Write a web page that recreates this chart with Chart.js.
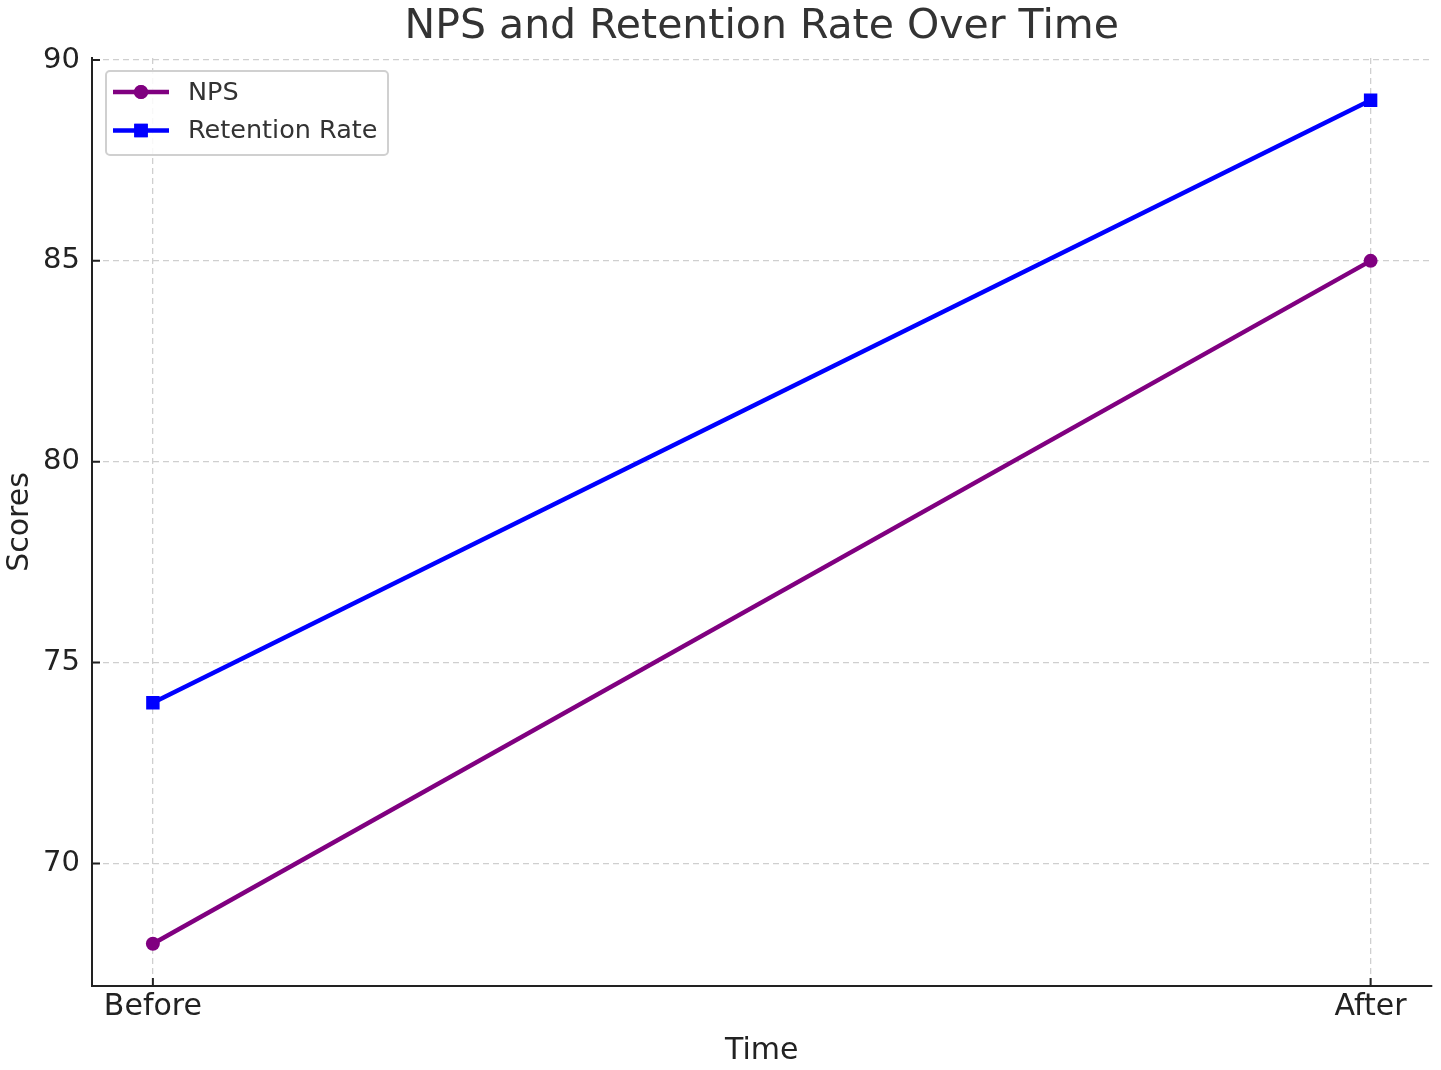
<!DOCTYPE html>
<html>
<head>
<meta charset="utf-8">
<script src="https://cdn.jsdelivr.net/npm/chart.js@4.4.1/dist/chart.umd.min.js"></script>
<style>
  html, body { margin: 0; padding: 0; background: #fff; }
  #wrap { width: 1441px; height: 1070px; }
</style>
</head>
<body>
<div id="wrap"><canvas id="linecanva"></canvas></div>
<script>
const chartTitle = "NPS and Retention Rate Over Time";
const periods = ["Before", "After"];
const npsValues = [68, 85];
const retentionValues = [74, 89];
const yTicks = [70, 75, 80, 85, 90];

Chart.defaults.font.family = "'DejaVu Sans', sans-serif";

// title centred over the plot area, like matplotlib
const plotTitle = {
  id: "plotTitle",
  afterDraw(chart) {
    const ctx = chart.ctx;
    const area = chart.chartArea;
    ctx.save();
    ctx.fillStyle = "#333";
    ctx.font = "41px 'DejaVu Sans'";
    ctx.textAlign = "center";
    ctx.textBaseline = "middle";
    ctx.fillText(chartTitle, (area.left + area.right) / 2, 27);
    ctx.restore();
  }
};

// small inward ticks
const innerTicks = {
  id: "innerTicks",
  afterDraw(chart) {
    const ctx = chart.ctx;
    const area = chart.chartArea;
    const xs = chart.scales.x, ys = chart.scales.y;
    ctx.save();
    ctx.strokeStyle = "#222";
    ctx.lineWidth = 2;
    ctx.beginPath();
    xs.ticks.forEach(t => {
      const px = xs.getPixelForValue(t.value);
      ctx.moveTo(px, area.bottom);
      ctx.lineTo(px, area.bottom - 8);
    });
    ys.ticks.forEach(t => {
      const py = ys.getPixelForValue(t.value);
      ctx.moveTo(area.left, py);
      ctx.lineTo(area.left + 8, py);
    });
    ctx.stroke();
    ctx.restore();
  }
};

// legend box inside the plot, upper left
const boxLegend = {
  id: "boxLegend",
  afterDraw(chart) {
    const ctx = chart.ctx;
    const area = chart.chartArea;
    const x = area.left + 14, y = area.top + 13, w = 282, h = 84;
    ctx.save();
    ctx.fillStyle = "rgba(255,255,255,0.85)";
    ctx.strokeStyle = "#d0d0d0";
    ctx.lineWidth = 2;
    ctx.beginPath();
    ctx.roundRect(x, y, w, h, 4);
    ctx.fill();
    ctx.stroke();
    chart.data.datasets.forEach((ds, i) => {
      const cy = y + 21 + i * 38.5;
      ctx.strokeStyle = ds.borderColor;
      ctx.lineWidth = ds.borderWidth;
      ctx.beginPath();
      ctx.moveTo(x + 7, cy);
      ctx.lineTo(x + 63, cy);
      ctx.stroke();
      ctx.fillStyle = ds.borderColor;
      Chart.helpers.drawPoint(ctx, {
        pointStyle: ds.pointStyle,
        radius: ds.pointRadius,
        borderWidth: 0
      }, x + 35, cy);
      ctx.fill();
      ctx.fillStyle = "#333";
      ctx.font = "25.5px 'DejaVu Sans'";
      ctx.textBaseline = "middle";
      ctx.fillText(ds.label, x + 82, cy + 1);
    });
    ctx.restore();
  }
};

const lineChart = new Chart(document.querySelector("#linecanva"), {
  type: "line",
  data: {
    datasets: [
      {
        label: "NPS",
        data: npsValues.map((v, i) => ({ x: i, y: v })),
        borderColor: "#800080",
        backgroundColor: "#800080",
        borderWidth: 4.5,
        pointStyle: "circle",
        pointRadius: 7,
        pointBorderWidth: 0
      },
      {
        label: "Retention Rate",
        data: retentionValues.map((v, i) => ({ x: i, y: v })),
        borderColor: "#0000ff",
        backgroundColor: "#0000ff",
        borderWidth: 4.5,
        pointStyle: "rect",
        pointRadius: 9.5,
        pointBorderWidth: 0
      }
    ]
  },
  options: {
    responsive: true,
    maintainAspectRatio: false,
    animation: false,
    layout: { padding: { left: 0, right: 9, top: 58, bottom: 0 } },
    plugins: {
      legend: { display: false },
      tooltip: { enabled: false },
      title: { display: false }
    },
    scales: {
      x: {
        type: "linear",
        min: -0.05,
        max: 1.05,
        afterBuildTicks: s => { s.ticks = periods.map((p, i) => ({ value: i })); },
        afterFit: s => { s.height = 84; },
        ticks: {
          callback: v => periods[v],
          color: "#222",
          font: { size: 30 },
          padding: 3,
          maxRotation: 0
        },
        grid: { color: "#cfcfcf", lineWidth: 1.3, drawTicks: false },
        border: { display: true, color: "#222", width: 2, dash: [6, 4] },
        title: {
          display: true,
          text: "Time",
          color: "#222",
          font: { size: 30 },
          padding: { top: 0, bottom: 1 }
        }
      },
      y: {
        min: 66.95,
        max: 90.05,
        afterBuildTicks: s => { s.ticks = yTicks.map(v => ({ value: v })); },
        afterFit: s => { s.width = 92; },
        ticks: {
          color: "#222",
          font: { size: 29 },
          padding: 12
        },
        grid: { color: "#cfcfcf", lineWidth: 1.3, drawTicks: false },
        border: { display: true, color: "#222", width: 2, dash: [6, 4] },
        title: {
          display: true,
          text: "Scores",
          color: "#222",
          font: { size: 30 },
          padding: { top: 2, bottom: 0 }
        }
      }
    }
  },
  plugins: [plotTitle, innerTicks, boxLegend]
});
</script>
</body>
</html>
